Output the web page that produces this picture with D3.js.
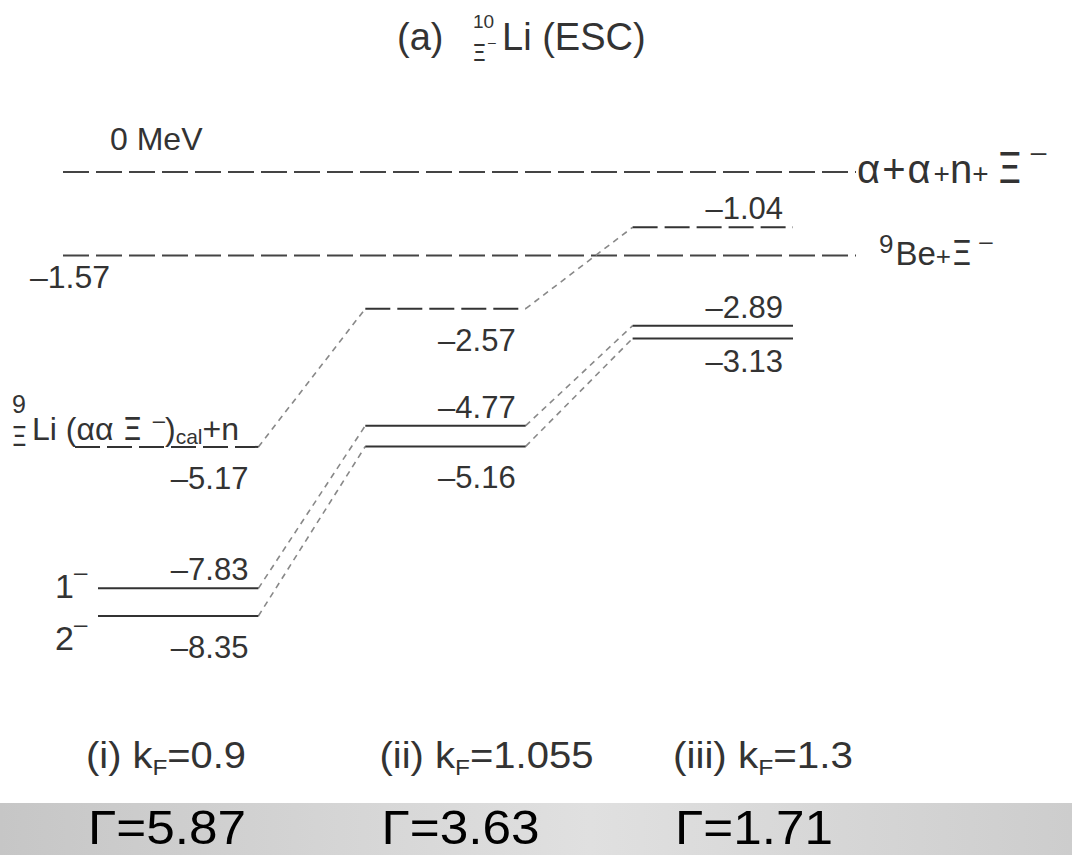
<!DOCTYPE html>
<html>
<head>
<meta charset="utf-8">
<script src="https://cdn.jsdelivr.net/npm/d3@7"></script>
<style>
  body { margin: 0; background: #fff; }
  svg { display: block; }
  text { font-family: "Liberation Sans", Arial, sans-serif; fill: #333; }
  .xi { font-family: "DejaVu Sans", sans-serif; }
</style>
</head>
<body>
<div id="chart"></div>
<script>
const width = 1072;
const height = 855;

// kF cases (columns) and decay widths
const columns = ["(i)", "(ii)", "(iii)"];
const kF = ["0.9", "1.055", "1.3"];
const gamma = ["5.87", "3.63", "1.71"];

// level energies in MeV, one value per column
const calLevels = [-5.17, -2.57, -1.04];   // 9Li(ααΞ−)cal + n, dashed
const levels1m = [-7.83, -4.77, -2.89];    // 1−
const levels2m = [-8.35, -5.16, -3.13];    // 2−

// thresholds
const thresholds = [0, -1.57];

const svg = d3.select("#chart").append("svg")
  .attr("width", width)
  .attr("height", height);

const y = d3.scaleLinear().domain([0, -8.35]).range([172, 616]);
const x = d3.scaleBand().domain(columns).range([98, 793]).paddingInner(0.4);
const labelX = d3.scalePoint().domain(columns).range([86, 673]);

const fmt = v => "\u2013" + Math.abs(v).toFixed(2);

// title
const title = svg.append("g");
title.append("text").attr("x", 397).attr("y", 50).attr("font-size", 38).text("(a)");
title.append("text").attr("x", 473).attr("y", 28).attr("font-size", 19).text("10");
title.append("text").attr("class", "xi").attr("x", 472).attr("y", 61).attr("font-size", 23).text("\u039E");
title.append("text").attr("x", 488).attr("y", 47).attr("font-size", 14).text("\u2013");
title.append("text").attr("x", 502).attr("y", 50).attr("font-size", 38).text("Li (ESC)");

// threshold lines
svg.selectAll(".thr")
  .data(thresholds)
  .enter().append("line")
  .attr("class", "thr")
  .attr("x1", 63).attr("x2", 856)
  .attr("y1", d => y(d)).attr("y2", d => y(d))
  .attr("stroke", "#444")
  .attr("stroke-width", 2)
  .attr("stroke-dasharray", "26,7");

svg.append("text").attr("x", 110).attr("y", 150).attr("font-size", 32).text("0 MeV");
svg.append("text").attr("x", 30).attr("y", 288).attr("font-size", 32).text(fmt(thresholds[1]));

const t1 = svg.append("text").attr("x", 857).attr("y", y(0) + 11).attr("font-size", 40);
t1.append("tspan").text("\u03B1");
t1.append("tspan").attr("dx", 2).text("+");
t1.append("tspan").attr("dx", 2).text("\u03B1");
t1.append("tspan").attr("font-size", 28).attr("dx", 3).text("+");
t1.append("tspan").text("n");
t1.append("tspan").attr("font-size", 28).text("+ ");
t1.append("tspan").attr("class", "xi").attr("font-size", 42).text("\u039E");
t1.append("tspan").attr("font-size", 28).attr("dy", -22).text(" \u2013");

const t2 = svg.append("text").attr("x", 879).attr("y", y(-1.57) + 10).attr("font-size", 33);
t2.append("tspan").attr("font-size", 26).attr("dy", -12).text("9");
t2.append("tspan").attr("dy", 12).attr("dx", 2).text("Be");
t2.append("tspan").attr("font-size", 26).text("+");
t2.append("tspan").attr("class", "xi").attr("font-size", 34).text("\u039E");
t2.append("tspan").attr("font-size", 24).attr("dy", -16).text(" \u2013");

// series of levels
const series = [
  { name: "cal", values: calLevels, dash: "25,7" },
  { name: "1-", values: levels1m, dash: null },
  { name: "2-", values: levels2m, dash: null }
];

series.forEach(s => {
  const pts = s.values.map((v, i) => ({ v, col: columns[i], i }));

  // connectors between columns
  svg.selectAll(null)
    .data(pts.slice(1))
    .enter().append("line")
    .attr("x1", d => x(columns[d.i - 1]) + x.bandwidth())
    .attr("y1", d => y(s.values[d.i - 1]))
    .attr("x2", d => x(d.col))
    .attr("y2", d => y(d.v))
    .attr("stroke", "#888")
    .attr("stroke-width", 1.6)
    .attr("stroke-dasharray", "6,5");

  svg.selectAll(null)
    .data(pts)
    .enter().append("line")
    .attr("x1", d => x(d.col) - (s.name === "cal" && d.i === 0 ? 23 : 0))
    .attr("x2", d => x(d.col) + x.bandwidth())
    .attr("y1", d => y(d.v))
    .attr("y2", d => y(d.v))
    .attr("stroke", "#333")
    .attr("stroke-width", 2)
    .attr("stroke-dasharray", s.dash);

  const above = d => s.name === "1-" || (s.name === "cal" && d.i === 2);
  svg.selectAll(null)
    .data(pts)
    .enter().append("text")
    .attr("x", d => x(d.col) + x.bandwidth() - 10)
    .attr("y", d => y(d.v) + (above(d) ? -8 : (d.i === 2 ? 34 : 42)))
    .attr("text-anchor", "end")
    .attr("font-size", 31)
    .text(d => fmt(d.v));
});

// left labels
svg.append("text").attr("x", 12).attr("y", 413).attr("font-size", 25).text("9");
svg.append("text").attr("class", "xi").attr("x", 11).attr("y", 446).attr("font-size", 26).text("\u039E");
const lab = svg.append("text").attr("x", 32).attr("y", 440).attr("font-size", 32);
lab.append("tspan").text("Li ");
lab.append("tspan").text("(\u03B1\u03B1 ");
lab.append("tspan").attr("class", "xi").attr("font-size", 32).text("\u039E ");
lab.append("tspan").attr("font-size", 22).attr("dy", -12).text("\u2013");
lab.append("tspan").attr("dy", 12).text(")");
lab.append("tspan").attr("font-size", 21).attr("dy", 4).text("cal");
lab.append("tspan").attr("dy", -4).text("+n");

const spin = [["1", levels1m[0], 10], ["2", levels2m[0], 34]];
spin.forEach(([j, v, off]) => {
  const t = svg.append("text").attr("x", 55).attr("y", y(v) + off).attr("font-size", 34);
  t.append("tspan").text(j);
  t.append("tspan").attr("font-size", 24).attr("dy", -18).text("\u2013");
});

// kF labels (condensed)
const kfWidth = [160, 214, 180];
columns.forEach((c, i) => {
  const t = svg.append("text")
    .attr("x", labelX(c)).attr("y", 768).attr("font-size", 36)
    .attr("textLength", kfWidth[i]).attr("lengthAdjust", "spacingAndGlyphs");
  t.append("tspan").text(c + " k");
  t.append("tspan").attr("font-size", 22).attr("dy", 7).text("F");
  t.append("tspan").attr("dy", -7).text("=" + kF[i]);
});

// gray band with widths
const grad = svg.append("defs").append("linearGradient").attr("id", "band");
grad.append("stop").attr("offset", "0%").attr("stop-color", "#c6c6c6");
grad.append("stop").attr("offset", "55%").attr("stop-color", "#e0e0e0");
grad.append("stop").attr("offset", "100%").attr("stop-color", "#cdcdcd");
svg.append("rect").attr("x", 0).attr("y", 803).attr("width", width).attr("height", 52)
  .attr("fill", "url(#band)");

svg.selectAll(".gam")
  .data(gamma)
  .enter().append("text")
  .attr("class", "gam")
  .attr("x", (d, i) => labelX(columns[i]) + 2)
  .attr("y", 844)
  .attr("font-size", 48)
  .attr("textLength", 158)
  .attr("lengthAdjust", "spacingAndGlyphs")
  .style("fill", "#000")
  .text(d => "\u0393=" + d);
</script>
</body>
</html>
